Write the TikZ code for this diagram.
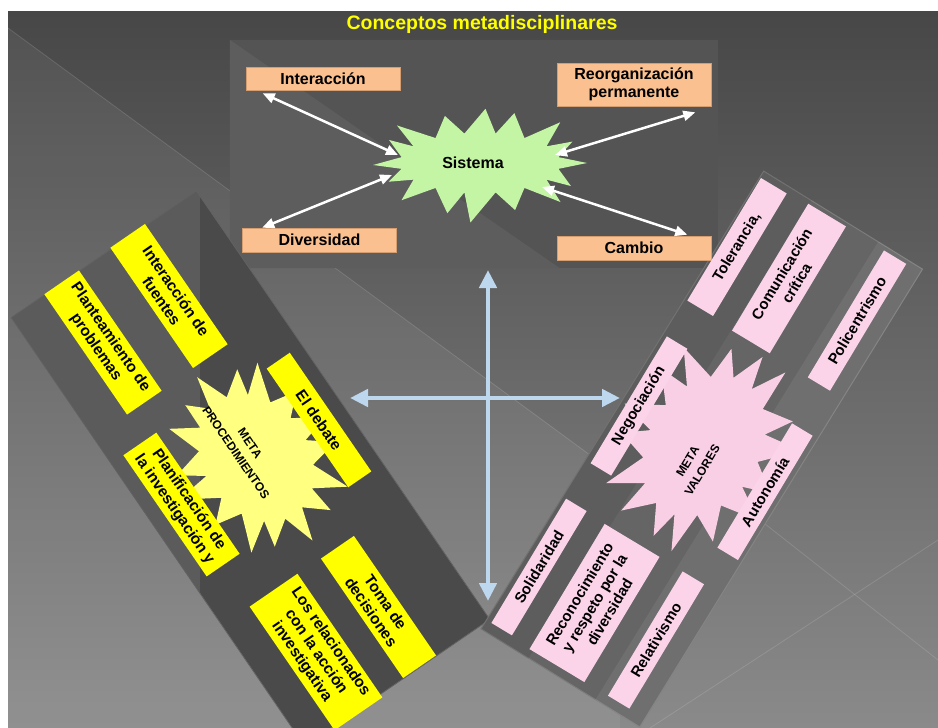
\documentclass[tikz,border=0pt]{standalone}
\usepackage{fontspec}
\setmainfont{Liberation Sans}
\usetikzlibrary{arrows.meta,calc}
\definecolor{bgtop}{HTML}{474747}
\definecolor{bgbot}{HTML}{8A8A8A}
\definecolor{tpan}{HTML}{545454}
\definecolor{tpanl}{HTML}{5D5D5D}
\definecolor{lpan}{HTML}{4A4A4A}
\definecolor{lpanl}{HTML}{5B5B5B}
\definecolor{lpanE}{HTML}{626262}
\definecolor{rpan}{HTML}{656565}
\definecolor{rpanE}{HTML}{7C7C7C}
\definecolor{peach}{HTML}{FAC090}
\definecolor{peachd}{HTML}{D59E70}
\definecolor{yboxc}{HTML}{FFFF00}
\definecolor{ystar}{HTML}{FFFF80}
\definecolor{pinkb}{HTML}{FCD4EA}
\definecolor{pstar}{HTML}{F9CFE5}
\definecolor{gstar}{HTML}{C4F5A5}
\definecolor{blueA}{HTML}{BDD7EE}
\definecolor{titley}{HTML}{FFFF00}
\newcommand\starburst[8]{%
\begin{scope}[shift={(#1,#2)},rotate=#3]
\fill[#7] ({#4*cos(-11.25)},{#5*sin(-11.25)}) \foreach \f/\d [count=\i from 0] in {#8} { -- ({(#4+#6*\f)*cos(\i*22.5+\d)},{(#5+#6*\f)*sin(\i*22.5+\d)}) -- ({#4*cos(\i*22.5+11.25)},{#5*sin(\i*22.5+11.25)}) } -- cycle;
\end{scope}}
\tikzset{
  peachbox/.style={draw=peachd, fill=peach, line width=0.6pt, minimum width=154, minimum height=23, inner sep=0pt, align=center, font=\bfseries\fontsize{16}{17.5}\selectfont},
  ylbox/.style={fill=yboxc, rotate=-55.5, inner sep=0pt, align=center, font=\bfseries\fontsize{15.5}{17.5}\selectfont},
  pkbox/.style={fill=pinkb, rotate=59, inner sep=0pt, align=center, font=\bfseries\fontsize{15}{17.5}\selectfont},
  whitearrow/.style={draw=white, line width=2.5pt, {Triangle[width=10pt,length=12pt]}-{Triangle[width=10pt,length=12pt]}},
  bluearrow/.style={draw=blueA, line width=4.5pt, {Triangle[width=17pt,length=18pt]}-{Triangle[width=17pt,length=18pt]}},
  startext/.style={inner sep=0pt, align=center, font=\bfseries\fontsize{12}{17}\selectfont},
  faint/.style={draw=white, opacity=0.13, line width=0.8pt}
}
\begin{document}
\begin{tikzpicture}[x=1pt,y=-1pt]
\useasboundingbox (0,0) rectangle (938,728);
\fill[white] (0,0) rectangle (938,728);
\shade[top color=bgtop, bottom color=bgbot] (8,11) rectangle (938,728);
\fill[white, opacity=0.06] (8,28) -- (620,477) -- (620,728) -- (8,728) -- cycle;
\draw[faint] (8,28) -- (620,477);
\draw[faint] (760,520) -- (938,660);
\draw[faint] (650,728) -- (938,540);

% top panel
\node[fill=tpan, minimum width=488, minimum height=228, inner sep=0pt] (tp) at (474,154) {};
\fill[tpanl] (tp.north west) -- ([shift={(330,0)}]tp.south west) -- (tp.south west) -- cycle;

% left panel
\node[fill=lpan, rotate=-55.6, minimum width=519, minimum height=224, inner sep=0pt] (lp) at (250.5,468.5) {};
\begin{scope}
\clip (lp.north west) -- (lp.north east) -- (lp.south east) -- (lp.south west) -- cycle;
\fill[lpanl] (0,0) rectangle (200,728);
\end{scope}
\draw[lpanE, line width=0.8pt] (lp.north west) -- (lp.north east) -- (lp.south east) -- (lp.south west) -- cycle;

% right panel
\node[fill=rpan, draw=rpanE, line width=1pt, rotate=58.3, minimum width=538, minimum height=186.6, inner sep=0pt] (rp) at (701.75,449) {};
\fill[black, opacity=0.08] (rp.north west) -- (rp.north east) -- ($(rp.north east)!0.3!(rp.south east)$) -- ($(rp.north west)!0.3!(rp.south west)$) -- cycle;
\fill[white, opacity=0.07] (rp.south west) -- (rp.south east) -- ($(rp.south east)!0.28!(rp.north east)$) -- ($(rp.south west)!0.28!(rp.north west)$) -- cycle;

% title
\node[text=titley, font=\bfseries\fontsize{19.5}{22}\selectfont] (title) at (482,24) {Conceptos metadisciplinares};

% peach boxes
\node[peachbox] (inter) at (323,78.5) {Interacción};
\node[peachbox, minimum height=24] (div) at (319.5,240) {Diversidad};
\node[peachbox, minimum height=43] (reorg) at (634,84.5) {Reorganización\\permanente};
\node[peachbox, minimum height=24] (cambio) at (634,248) {Cambio};

% stars
\starburst{480}{163}{0}{80}{30}{27}{gstar}{1/0,0.8/4,1.05/-3,0.75/2,1.1/5,0.85/-4,0.95/3,0.7/0,1/-2,0.8/4,1.05/-5,0.75/2,0.9/3,0.85/-3,1.1/2,0.8/-2}
\starburst{256}{458}{-55.6}{68}{52}{32}{ystar}{1/0,0.8/4,1.05/-3,0.75/2,1.1/5,0.85/-4,0.95/3,0.7/0,1/-2,0.8/4,1.05/-5,0.75/2,0.9/3,0.85/-3,1.1/2,0.8/-2}
\starburst{704}{446}{58.3}{75}{55}{35}{pstar}{0.9/2,1.05/-3,0.8/4,1.1/-2,0.75/3,1/-4,0.85/2,1.05/5,0.8/-3,0.95/2,1.1/-2,0.75/4,1/-3,0.85/2,1.05/-4,0.8/3}

\node[font=\bfseries\fontsize{16}{18}\selectfont] (sys) at (473,163) {Sistema};
\node[startext, rotate=-55.6] (meta1) at (243,448) {META\\PROCEDIMIENTOS};
\node[startext, rotate=59] (meta2) at (695,466) {META\\VALORES};

% yellow boxes
\node[ylbox, minimum width=146, minimum height=42] (plan) at (103,342.5) {Planteamiento de\\problemas};
\node[ylbox, minimum width=146, minimum height=42] (fuentes) at (169,296) {Interacción de\\fuentes};
\node[ylbox, minimum width=144, minimum height=28] (debate) at (319,420) {El debate};
\node[ylbox, minimum width=147, minimum height=40] (planif) at (181.5,504.5) {Planificación de\\la investigación y};
\node[ylbox, minimum width=145, minimum height=40] (toma) at (378.5,607) {Toma de\\decisiones};
\node[ylbox, minimum width=150, minimum height=58] (losrel) at (316,652) {Los relacionados\\con la acción\\investigativa};

% pink boxes
\node[pkbox, minimum width=143, minimum height=30] (tol) at (737,247) {Tolerancia,};
\node[pkbox, minimum width=148, minimum height=44] (com) at (789,278.5) {Comunicación\\crítica};
\node[pkbox, minimum width=148, minimum height=26] (poli) at (857,320.6) {Policentrismo};
\node[pkbox, minimum width=148, minimum height=24] (nego) at (639,406) {Negociación};
\node[pkbox, minimum width=145, minimum height=24] (auto) at (765,491.7) {Autonomía};
\node[pkbox, minimum width=145, minimum height=24] (soli) at (539,567) {Solidaridad};
\node[pkbox, minimum width=146, minimum height=64] (reco) at (594.5,603) {Reconocimiento\\y respeto por la\\diversidad};
\node[pkbox, minimum width=145, minimum height=25] (rela) at (656,640) {Relativismo};

% white arrows
\draw[whitearrow] ([shift={(17,3)}]inter.south west) -- ([shift={(-75,-8)}]sys.center);
\draw[whitearrow] ([shift={(20,0)}]div.north west) -- ([shift={(-81,12)}]sys.center);
\draw[whitearrow] ([shift={(-16,6)}]reorg.south east) -- ([shift={(82,-8)}]sys.center);
\draw[whitearrow] ([shift={(-24,-1)}]cambio.north east) -- ([shift={(69,24)}]sys.center);

% blue cross
\coordinate (vtop) at (488,270);
\coordinate (vbot) at (488,601);
\coordinate (hl) at (350,398);
\coordinate (hr) at (620,398);
\draw[bluearrow] (vtop) -- (vbot);
\draw[bluearrow] (hl) -- (hr);
\end{tikzpicture}
\end{document}
